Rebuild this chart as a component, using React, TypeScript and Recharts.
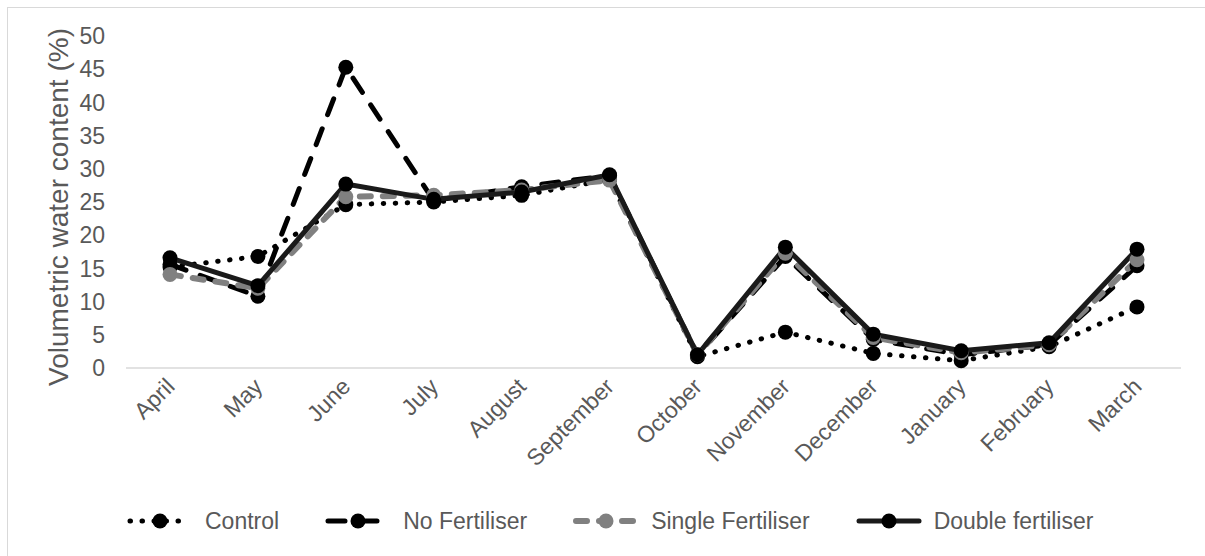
import { LineChart, Line, XAxis, YAxis, Legend } from 'recharts';

const months = ['April', 'May', 'June', 'July', 'August', 'September', 'October', 'November', 'December', 'January', 'February', 'March'];
const control = [15.2, 16.8, 24.6, 25.0, 26.0, 28.4, 1.7, 5.4, 2.2, 1.1, 3.2, 9.2];
const noFertiliser = [15.6, 10.8, 45.3, 25.2, 27.3, 29.0, 1.9, 16.8, 4.3, 2.0, 3.5, 15.4];
const singleFertiliser = [14.1, 12.0, 25.8, 26.0, 26.8, 28.3, 2.0, 17.3, 4.6, 2.3, 3.5, 16.3];
const doubleFertiliser = [16.6, 12.4, 27.7, 25.4, 26.5, 29.1, 2.0, 18.2, 5.1, 2.6, 3.8, 17.9];
const yTicks = [0, 5, 10, 15, 20, 25, 30, 35, 40, 45, 50];

const FONT = '"Liberation Sans", Arial, sans-serif';
const TEXT = '#595959';

const data = months.map((m, i) => ({
    month: m,
    control: control[i],
    noFert: noFertiliser[i],
    single: singleFertiliser[i],
    double: doubleFertiliser[i],
}));

// line styles shared by the series and the legend
const series = [
    { key: 'control', name: 'Control', stroke: '#000000', width: 5, dash: '0.5 11.5', dot: '#000000' },
    { key: 'noFert', name: 'No Fertiliser', stroke: '#000000', width: 5, dash: '17 15', dot: '#000000' },
    { key: 'single', name: 'Single Fertiliser', stroke: '#808080', width: 6, dash: '11 12', dot: '#808080' },
    { key: 'double', name: 'Double fertiliser', stroke: '#1a1a1a', width: 5, dash: undefined, dot: '#000000' },
];

function MonthTick({ x, y, payload }: any) {
    return (
        <g transform={`translate(${x + 6},${y + 20})`}>
            <text textAnchor="end" transform="rotate(-45)" fill={TEXT} fontSize={23} fontFamily={FONT}>
                {payload.value}
            </text>
        </g>
    );
}

function YLabel({ viewBox }: any) {
    const cy = viewBox.y + viewBox.height / 2 + 5;
    return (
        <text x={58} y={cy} transform={`rotate(-90, 58, ${cy})`} textAnchor="middle" dominantBaseline="central"
            fill={TEXT} fontSize={28} fontFamily={FONT}>
            Volumetric water content (%)
        </text>
    );
}

function ChartLegend() {
    return (
        <div style={{ display: 'flex', alignItems: 'center', height: 30, paddingLeft: 127, fontFamily: FONT, fontSize: 23, color: TEXT }}>
            {series.map((s) => (
                <div key={s.key} style={{ display: 'flex', alignItems: 'center', marginRight: 46 }}>
                    <svg width={66} height={20} style={{ marginRight: 12 }}>
                        <line x1={3} y1={10} x2={63} y2={10} stroke={s.stroke} strokeWidth={s.width}
                            strokeDasharray={s.dash} strokeLinecap="round" />
                        <circle cx={33} cy={10} r={7.5} fill={s.dot} />
                    </svg>
                    <span style={{ whiteSpace: 'nowrap' }}>{s.name}</span>
                </div>
            ))}
        </div>
    );
}

export default function App() {
    return (
        <div style={{ position: 'absolute', left: 0, top: 0, width: 1205, height: 556, background: '#fff', overflow: 'hidden' }}>
            <div style={{ position: 'absolute', left: 7, top: 7, width: 1300, height: 700, border: '1px solid #d9d9d9' }} />
            <div style={{ position: 'absolute', left: 0, top: 0 }}>
                <LineChart width={1205} height={556} data={data} margin={{ top: 36, right: 24, left: 56, bottom: 20 }}>
                    <XAxis
                        dataKey="month"
                        padding={{ left: 44, right: 44 }}
                        height={138}
                        axisLine={{ stroke: '#d9d9d9', strokeWidth: 1.5 }}
                        tickLine={false}
                        tickSize={0}
                        tickMargin={0}
                        interval={0}
                        tick={<MonthTick />}
                    />
                    <YAxis
                        width={70}
                        domain={[0, 50]}
                        ticks={yTicks}
                        axisLine={false}
                        tickLine={false}
                        tickSize={0}
                        tickMargin={21}
                        tick={{ fill: TEXT, fontSize: 23, fontFamily: FONT }}
                        label={<YLabel />}
                    />
                    <Legend verticalAlign="bottom" content={<ChartLegend />} wrapperStyle={{ left: 0, bottom: 20, width: 1205 }} />
                    {series.map((s) => (
                        <Line
                            key={s.key}
                            type="linear"
                            dataKey={s.key}
                            name={s.name}
                            stroke={s.stroke}
                            strokeWidth={s.width}
                            strokeDasharray={s.dash}
                            strokeLinecap="round"
                            dot={{ r: 7.5, fill: s.dot, stroke: 'none', strokeDasharray: '' }}
                            activeDot={false}
                            isAnimationActive={false}
                        />
                    ))}
                </LineChart>
            </div>
        </div>
    );
}
